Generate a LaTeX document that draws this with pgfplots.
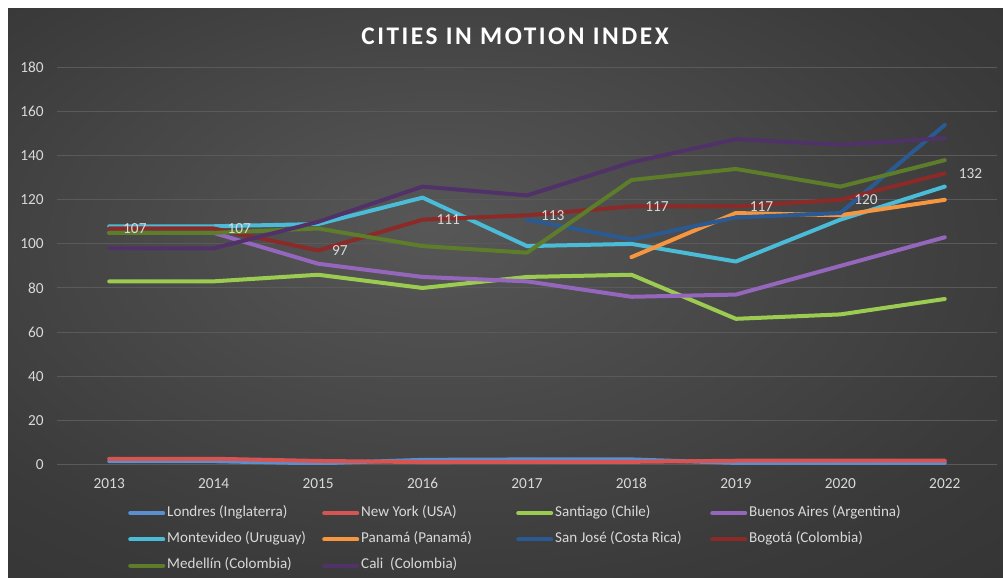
\documentclass[border=0pt]{standalone}
\usepackage{fontspec}
\setmainfont{Carlito}
\newfontfamily\titlefont[LetterSpace=10]{Carlito}
\usepackage{pgfplots}
\pgfplotsset{compat=1.18}

\definecolor{cLon}{HTML}{5A8FD0}
\definecolor{cNY}{HTML}{D65552}
\definecolor{cSan}{HTML}{9BCB50}
\definecolor{cBA}{HTML}{9467BD}
\definecolor{cMon}{HTML}{4BBCD8}
\definecolor{cPan}{HTML}{F7963F}
\definecolor{cSJ}{HTML}{2B5A93}
\definecolor{cBog}{HTML}{8C2A28}
\definecolor{cMed}{HTML}{5E7D2B}
\definecolor{cCal}{HTML}{503269}
\definecolor{txt}{HTML}{D9D9D9}
\definecolor{gridc}{HTML}{5A5A5A}
\definecolor{bgin}{HTML}{575757}
\definecolor{bgmid}{HTML}{3A3A3A}
\definecolor{bgout}{HTML}{222222}

\pgfdeclareradialshading{bgshade}{\pgfpoint{-4bp}{6bp}}{%
  color(0bp)=(bgin); color(30bp)=(bgmid); color(72bp)=(bgout)}

\newcommand{\legtxt}[1]{\makebox[116.25pt][l]{#1}}

\begin{document}
\begin{tikzpicture}
% background (image px * 0.75pt)
\fill[white] (0pt,0pt) rectangle (752.25pt,433.5pt);
\shade[shading=bgshade] (6pt,0pt) rectangle (752.25pt,426.75pt);
\useasboundingbox (0pt,0pt) rectangle (752.25pt,433.5pt);

\node[text=white, font=\titlefont\bfseries\fontsize{19}{22}\selectfont]
  at (386.25pt,406pt) {CITIES IN MOTION INDEX};

\begin{axis}[
    at={(42.75pt,85.3pt)}, anchor=south west,
    scale only axis,
    width=705pt, height=297.5pt,
    xmin=-0.5, xmax=8.5,
    ymin=0, ymax=180,
    xtick={0,...,8},
    xticklabels={2013,2014,2015,2016,2017,2018,2019,2020,2022},
    ytick={0,20,...,180},
    axis line style={draw=none},
    major tick length=0pt,
    ymajorgrids,
    grid style={gridc, line width=0.75pt},
    /pgf/number format/assume math mode=true,
    tick label style={text=txt, font=\fontsize{11.5}{13}\selectfont},
    xticklabel style={yshift=-7pt},
    yticklabel style={xshift=-6.5pt},
    every axis plot/.append style={line width=3pt, line join=round, line cap=round},
    legend columns=4,
    legend cell align=left,
    legend image code/.code={\draw[#1, line width=3pt, line cap=round] (1.5pt,0pt) -- (26.25pt,0pt);},
    legend style={
        at={(0.0755,-0.106)}, anchor=north west,
        draw=none, fill=none, inner sep=0pt, row sep=9.6pt,
        nodes={inner sep=0pt, text=txt, text height=7.5pt, text depth=2.5pt,
               font=\fontsize{11.3}{13}\selectfont},
        /tikz/every odd column/.append style={column sep=1.5pt},
        /tikz/every even column/.append style={column sep=0pt},
    },
]
\addplot[cLon] coordinates {(0,1.4) (1,1.4) (2,0.4) (3,2) (4,2.2) (5,2.2) (6,0.6) (7,0.6) (8,0.6)};
\addlegendentry{\legtxt{Londres (Inglaterra)}}
\addplot[cNY] coordinates {(0,2.5) (1,2.5) (2,1.5) (3,1) (4,1.1) (5,1.1) (6,1.6) (7,1.6) (8,1.6)};
\addlegendentry{\legtxt{New York (USA)}}
\addplot[cSan] coordinates {(0,83) (1,83) (2,86) (3,80) (4,85) (5,86) (6,66) (7,68) (8,75)};
\addlegendentry{\legtxt{Santiago (Chile)}}
\addplot[cBA] coordinates {(0,105) (1,105) (2,91) (3,85) (4,83) (5,76) (6,77) (7,90) (8,103)};
\addlegendentry{\legtxt{Buenos Aires (Argentina)}}
\addplot[cMon] coordinates {(0,108) (1,108) (2,109) (3,121) (4,99) (5,100) (6,92) (7,111) (8,126)};
\addlegendentry{\legtxt{Montevideo (Uruguay)}}
\addplot[cPan] coordinates {(5,94) (6,114) (7,113) (8,120)};
\addlegendentry{\legtxt{Panamá (Panamá)}}
\addplot[cSJ] coordinates {(4,111) (5,102) (6,112) (7,114) (8,154)};
\addlegendentry{\legtxt{San José (Costa Rica)}}
\addplot[cBog,
    nodes near coords,
    point meta=explicit symbolic,
    every node near coord/.append style={anchor=west, inner sep=0pt, xshift=9pt,
        text=txt, font=\fontsize{11.5}{13}\selectfont},
] coordinates {(0,107) [107] (1,107) [107] (2,97) [97] (3,111) [111] (4,113) [113]
               (5,117) [117] (6,117) [117] (7,120) [120] (8,132) [132]};
\addlegendentry{\legtxt{Bogotá (Colombia)}}
\addplot[cMed] coordinates {(0,105) (1,105) (2,107) (3,99) (4,96) (5,129) (6,134) (7,126) (8,138)};
\addlegendentry{\legtxt{Medellín (Colombia)}}
\addplot[cCal] coordinates {(0,98) (1,98) (2,110) (3,126) (4,122) (5,137) (6,147.5) (7,145) (8,148)};
\addlegendentry{\legtxt{Cali\ \ (Colombia)}}
\end{axis}
\end{tikzpicture}
\end{document}
